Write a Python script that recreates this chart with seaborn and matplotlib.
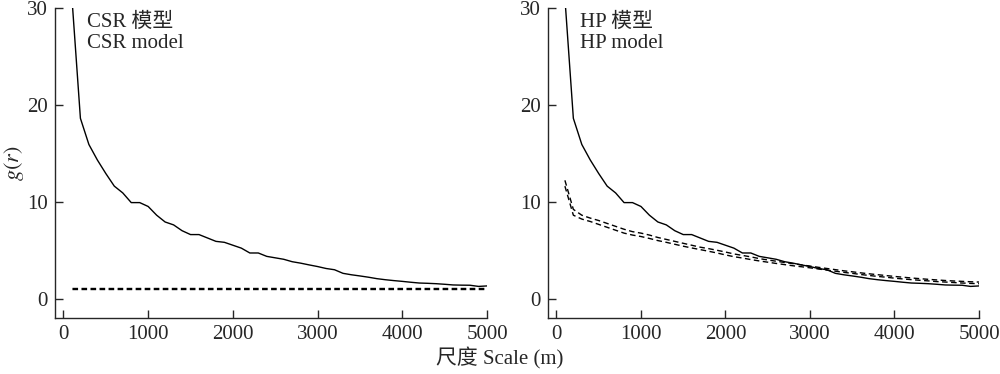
import numpy as np
import pandas as pd
import matplotlib
matplotlib.use("Agg")
import matplotlib.pyplot as plt
import seaborn as sns

# scale r (m)
r = list(range(100, 5001, 100))

# observed g(r), same in both panels
g_obs = [31.0, 18.6, 15.9, 14.3, 12.9, 11.6, 10.9, 9.9, 9.9, 9.5,
         8.6, 7.9, 7.6, 7.0, 6.6, 6.6, 6.25, 5.9, 5.8, 5.5,
         5.2, 4.7, 4.7, 4.35, 4.2, 4.05, 3.8, 3.65, 3.47, 3.3,
         3.1, 2.97, 2.6, 2.45, 2.33, 2.2, 2.05, 1.94, 1.85, 1.77,
         1.68, 1.6, 1.57, 1.53, 1.47, 1.4, 1.38, 1.37, 1.25, 1.3]

# CSR envelope
csr_hi = [1.05] * 50
csr_lo = [0.95] * 50

# HP envelope
hp_hi = [12.2, 9.2, 8.6, 8.3, 8.05, 7.75, 7.45, 7.15, 6.9, 6.75,
         6.55, 6.3, 6.1, 5.9, 5.7, 5.5, 5.3, 5.15, 4.98, 4.8,
         4.6, 4.45, 4.3, 4.12, 3.98, 3.85, 3.72, 3.6, 3.47, 3.35,
         3.22, 3.1, 2.98, 2.86, 2.76, 2.65, 2.55, 2.46, 2.37, 2.28,
         2.2, 2.12, 2.05, 1.98, 1.92, 1.86, 1.81, 1.77, 1.73, 1.7]
hp_lo = [11.6, 8.6, 8.2, 7.95, 7.65, 7.35, 7.05, 6.75, 6.55, 6.4,
         6.2, 5.98, 5.8, 5.6, 5.4, 5.22, 5.05, 4.88, 4.7, 4.5,
         4.32, 4.18, 4.02, 3.88, 3.75, 3.62, 3.5, 3.38, 3.28, 3.17,
         3.05, 2.93, 2.82, 2.7, 2.6, 2.48, 2.38, 2.28, 2.2, 2.1,
         2.02, 1.95, 1.88, 1.82, 1.75, 1.7, 1.65, 1.6, 1.56, 1.53]

panels = [("CSR 模型\nCSR model", csr_hi, csr_lo),
          ("HP 模型\nHP model", hp_hi, hp_lo)]

sns.set_style("ticks")
plt.rcParams['font.family'] = ['Liberation Serif', 'Noto Sans CJK SC']
plt.rcParams['mathtext.fontset'] = 'stix'
plt.rcParams['font.size'] = 15

fig = plt.figure(figsize=(10, 3.74), dpi=100)
axes = [fig.add_axes([0.055, 0.150, 0.432, 0.829]),
        fig.add_axes([0.548, 0.150, 0.431, 0.829])]

for ax, (label, hi, lo) in zip(axes, panels):
    df = pd.DataFrame({'r': r, 'obs': g_obs, 'hi': hi, 'lo': lo})
    sns.lineplot(data=df, x='r', y='obs', ax=ax, color='black', lw=1.0)
    for col in ['hi', 'lo']:
        sns.lineplot(data=df, x='r', y=col, ax=ax, color='black', lw=1.0,
                     dashes=False, linestyle=(0, (4, 2.5)))
    ax.set_xlim(-100, 5000)
    ax.set_ylim(-2, 30)
    ax.set_xticks([0, 1000, 2000, 3000, 4000, 5000])
    ax.set_yticks([0, 10, 20, 30])
    ax.tick_params(direction='in', length=6, width=1, labelsize=15, pad=5)
    ax.set_xlabel('')
    ax.set_ylabel('')
    for s in ['top', 'right']:
        ax.spines[s].set_visible(False)
    for s in ['left', 'bottom']:
        ax.spines[s].set_linewidth(1.0)
    ax.text(0.075, 0.985, label, transform=ax.transAxes, ha='left', va='top',
            fontsize=15, linespacing=1.15)

axes[0].set_ylabel('$g(r)$', fontsize=16, labelpad=1)
fig.text(0.5, 0.012, '尺度 Scale (m)', ha='center', va='bottom', fontsize=15)

fig.savefig('out.png', dpi=100)
